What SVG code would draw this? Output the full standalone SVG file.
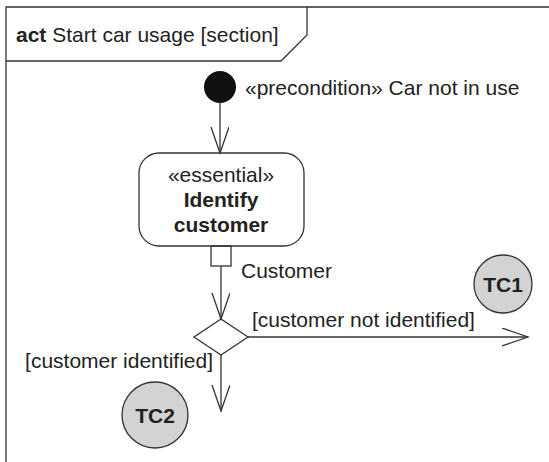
<svg xmlns="http://www.w3.org/2000/svg" width="549" height="462" viewBox="0 0 549 462">
<defs>
<style>
text{font-family:"Liberation Sans",Arial,sans-serif;font-size:21px;fill:#222}
.b{font-weight:bold}
.ln{fill:none;stroke:#333;stroke-width:1.3}
.tc{fill:#d3d3d3;stroke:#333;stroke-width:1.3}
</style>
<marker id="open" markerWidth="30" markerHeight="30" refX="26" refY="9" orient="auto" markerUnits="userSpaceOnUse">
<path d="M0,0 L26,9 L0,18" fill="none" stroke="#333" stroke-width="1.3"/>
</marker>
</defs>
<rect width="549" height="462" fill="#fff"/>
<g id="frame">
<path class="ln" d="M6,462 V7 H549" stroke-width="2"/>
<path class="ln" d="M6,61 H281 L307,35 V7"/>
<text x="16" y="42"><tspan class="b">act</tspan> Start car usage [section]</text>
</g>
<g id="connectors">
<line class="ln" x1="220" y1="103" x2="220" y2="153" marker-end="url(#open)"/>
<line class="ln" x1="221" y1="266" x2="221" y2="319" marker-end="url(#open)"/>
<line class="ln" x1="248" y1="337" x2="528" y2="337" marker-end="url(#open)"/>
<line class="ln" x1="221" y1="355" x2="221" y2="411" marker-end="url(#open)"/>
<text x="241" y="278">Customer</text>
<text x="252" y="327">[customer not identified]</text>
<text x="213" y="368" text-anchor="end">[customer identified]</text>
</g>
<g id="initial">
<circle cx="220" cy="87" r="16" fill="#111"/>
<text x="245" y="95">«precondition» Car not in use</text>
</g>
<g id="identify">
<rect class="ln" x="139" y="153" width="165" height="93" rx="20"/>
<text x="221" y="182" text-anchor="middle">«essential»</text>
<text class="b" x="221" y="207" text-anchor="middle">Identify</text>
<text class="b" x="221" y="232" text-anchor="middle">customer</text>
<rect class="ln" x="211" y="246" width="20" height="20" fill="#fff"/>
</g>
<g id="decision">
<path class="ln" d="M221,319 L248,337 L221,355 L194,337 Z" fill="#fff"/>
</g>
<g id="tc1">
<circle class="tc" cx="503" cy="284" r="29"/>
<text class="b" x="503" y="292" text-anchor="middle">TC1</text>
</g>
<g id="tc2">
<circle class="tc" cx="155" cy="415" r="33"/>
<text class="b" x="155" y="423" text-anchor="middle">TC2</text>
</g>
</svg>
